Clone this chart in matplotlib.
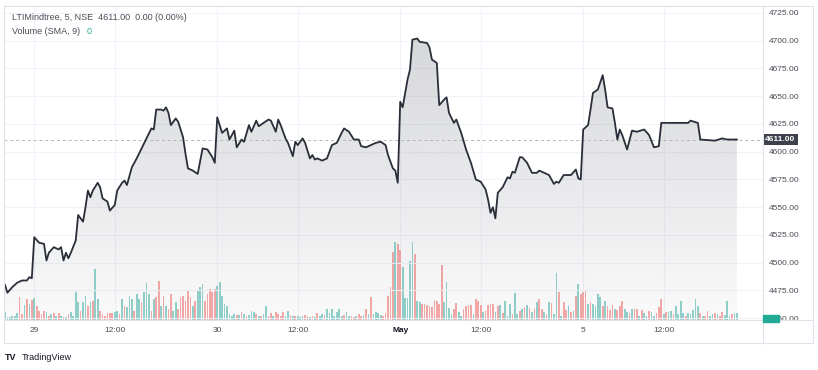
import numpy as np
import matplotlib.pyplot as plt
from matplotlib.patches import Rectangle
from matplotlib.lines import Line2D
from matplotlib.transforms import blended_transform_factory

plt.rcParams['font.family'] = ['Liberation Sans', 'DejaVu Sans']

W, H = 818, 370

# 5-min bars: bar index -> close
bar_idx = [0, 1, 3, 5, 7, 9, 10, 11, 12, 14, 16, 17, 18, 20, 22, 23, 24, 25, 26, 27,
           29, 30, 32, 33, 34, 35, 36, 38, 39, 40, 42, 43, 45, 46, 48, 49, 50, 51, 52, 54,
           56, 58, 60, 61, 62, 64, 65, 66, 67, 68, 70, 71, 73, 74, 75, 77, 79, 81, 83, 85,
           86, 87, 89, 91, 92, 94, 95, 97, 98, 100, 101, 103, 104, 106, 108, 109, 111, 112, 113, 115,
           116, 118, 119, 120, 122, 123, 125, 126, 127, 128, 130, 132, 134, 136, 138, 139, 141, 143, 145, 146,
           148, 150, 152, 154, 156, 157, 159, 160, 161, 162, 163, 165, 166, 167, 169, 170, 173, 174, 175, 177,
           178, 180, 181, 182, 184, 185, 187, 189, 191, 193, 195, 197, 198, 199, 200, 201, 202, 204, 206, 207,
           208, 209, 211, 212, 214, 216, 218, 219, 221, 223, 225, 226, 227, 229, 232, 234, 235, 236, 237, 239,
           240, 241, 243, 245, 246, 247, 249, 250, 251, 252, 253, 255, 257, 259, 262, 264, 266, 268, 269, 271,
           276, 280, 281, 284, 285, 291, 294, 296, 300]
close = [4480, 4473, 4478, 4482, 4484, 4484, 4487, 4486, 4523, 4518, 4517, 4502, 4509, 4514, 4512, 4514, 4502, 4509, 4504, 4509,
         4520, 4543, 4537, 4550, 4565, 4559, 4565, 4572, 4568, 4558, 4555, 4547, 4552, 4565, 4572, 4574, 4570, 4578, 4586, 4594,
         4603, 4612, 4621, 4620, 4638, 4638, 4637, 4640, 4635, 4624, 4630, 4627, 4613, 4598, 4585, 4583, 4580, 4603, 4602, 4595,
         4590, 4631, 4617, 4621, 4611, 4619, 4604, 4611, 4609, 4624, 4618, 4628, 4623, 4626, 4629, 4628, 4618, 4629, 4624, 4612,
         4608, 4596, 4609, 4606, 4612, 4608, 4594, 4597, 4593, 4594, 4592, 4594, 4606, 4608, 4617, 4621, 4618, 4611, 4611, 4605,
         4604, 4606, 4608, 4609, 4606, 4597, 4585, 4583, 4572, 4645, 4640, 4665, 4674, 4701, 4702, 4699, 4698, 4694, 4683, 4680,
         4642, 4647, 4649, 4635, 4626, 4629, 4617, 4602, 4590, 4575, 4573, 4566, 4557, 4545, 4550, 4540, 4563, 4568, 4577, 4576,
         4582, 4581, 4595, 4595, 4590, 4581, 4581, 4583, 4581, 4579, 4571, 4573, 4572, 4579, 4579, 4584, 4576, 4575, 4620, 4624,
         4638, 4653, 4656, 4669, 4656, 4640, 4639, 4626, 4611, 4620, 4615, 4602, 4619, 4618, 4620, 4615, 4604, 4605, 4626, 4626,
         4626, 4626, 4628, 4626, 4611, 4610, 4612, 4611, 4611]
last_price = 4611.00

# volume per bar (arbitrary units)
volume = [8, 3, 3, 4, 4, 7, 23, 6, 15, 21,
          16, 20, 22, 14, 9, 6, 9, 8, 4, 6,
          7, 4, 7, 4, 3, 3, 6, 8, 4, 28,
          18, 9, 18, 24, 14, 18, 19, 51, 21, 9,
          6, 4, 7, 7, 7, 8, 9, 6, 21, 14,
          13, 24, 21, 9, 26, 21, 18, 28, 37, 26,
          9, 21, 23, 39, 14, 24, 14, 11, 26, 9,
          18, 11, 23, 24, 19, 29, 23, 14, 19, 29,
          33, 36, 19, 26, 31, 28, 31, 34, 38, 24,
          16, 14, 6, 4, 6, 5, 5, 8, 6, 4,
          5, 9, 8, 6, 4, 4, 6, 14, 4, 7,
          4, 8, 6, 4, 8, 4, 9, 5, 4, 4, 4,
          3, 4, 5, 4, 3, 4, 3, 7, 4, 6,
          5, 11, 7, 11, 4, 8, 11, 4, 5, 8,
          4, 4, 3, 4, 6, 4, 5, 11, 6, 23,
          6, 8, 7, 5, 4, 7, 24, 33, 68, 78,
          76, 70, 53, 22, 22, 59, 78, 66, 19, 18,
          16, 16, 15, 14, 13, 20, 19, 16, 55, 18,
          38, 12, 6, 11, 17, 8, 4, 11, 14, 15,
          15, 6, 21, 19, 15, 8, 9, 15, 16, 16,
          8, 14, 15, 7, 19, 4, 16, 6, 27, 6,
          9, 11, 13, 15, 12, 8, 11, 18, 21, 11,
          8, 6, 18, 17, 6, 47, 28, 4, 18, 10,
          14, 8, 9, 24, 36, 26, 28, 29, 16, 18,
          16, 14, 26, 23, 14, 19, 14, 10, 15, 11,
          10, 14, 19, 11, 8, 7, 11, 11, 11, 4,
          10, 7, 4, 9, 8, 4, 7, 13, 21, 6,
          8, 8, 9, 6, 14, 6, 19, 7, 4, 7,
          6, 10, 21, 14, 7, 4, 4, 9, 4, 6,
          7, 6, 4, 8, 5, 19, 4, 6, 7, 7]
# bar direction, u = up, d = down (same grouping as volume)
vol_dir = ("uuuuuuddud" "ududdddudu" "dudududuuu" "uduududuud"
           "ddddduudud" "uuuduuduuu" "duddududdu" "uddddddudu"
           "uuddddduuu" "uuuuududud" "uuududuudd" "udddduududu"
           "uuddududuu" "duuuuuuudu" "udduddudud"
           "uuuudddddu" "dduuuuuduu" "dddddddddu" "uuudduuddd"
           "dudddudddd" "ududuuuduu" "dududududd" "ududuududd"
           "udududddud" "uuuududddu" "ddduududdu" "duuduudddu"
           "duuduuuudu" "uuuududduu" "dudduuuduu")

price_ticks = [4450, 4475, 4500, 4525, 4550, 4575, 4600, 4625, 4650, 4675, 4700, 4725]
time_ticks = [12, 45, 87, 120, 162, 195, 237, 270]
time_labels = ["29", "12:00", "30", "12:00", "May", "12:00", "5", "12:00"]

UP_COL = '#92d2cc'
DOWN_COL = '#f7a9a7'
GRID = '#f0f3fa'
TXT = '#4a4d57'

def fx(px):
    return px / W

def fy(py):
    return 1 - py / H

fig = plt.figure(figsize=(W / 100, H / 100), dpi=100)
rect = [fx(4), fy(320), fx(763) - fx(4), fy(6) - fy(320)]

# volume pane (below), price pane on top
axv = fig.add_axes(rect)
ax = axv.twinx()
axv.set_zorder(0)
ax.set_zorder(1)
ax.patch.set_visible(False)

xlo, xhi = -0.4, 310.7
ylo, yhi = 4448.4, 4731.3

x = np.arange(len(volume))
colors = [UP_COL if d == 'u' else DOWN_COL for d in vol_dir]
for t in time_ticks:
    axv.axvline(t, color=GRID, lw=0.8, zorder=0)
axv.bar(x, volume, width=0.7, color=colors, linewidth=0, zorder=2)
axv.set_ylim(0, 314)
axv.set_xlim(xlo, xhi)
axv.set_yticks([])
for s in axv.spines.values():
    s.set_visible(False)

for p in price_ticks:
    ax.axhline(p, color=GRID, lw=0.8, zorder=0)

# gradient area fill under the line
poly = ax.fill_between(bar_idx, close, ylo, facecolor='none', edgecolor='none')
grad = np.zeros((256, 1, 4))
grad[:, 0, 0] = 120 / 255
grad[:, 0, 1] = 123 / 255
grad[:, 0, 2] = 134 / 255
grad[:, 0, 3] = np.linspace(0.30, 0.04, 256)
im = ax.imshow(grad, extent=[bar_idx[0], bar_idx[-1], ylo, max(close)],
               aspect='auto', origin='upper', zorder=1, interpolation='bilinear')
im.set_clip_path(poly.get_paths()[0], transform=ax.transData)

ax.plot(bar_idx, close, color='#2a2e39', lw=1.3, zorder=3, solid_joinstyle='round')
ax.axhline(last_price, color='#b2b5be', lw=0.7, ls=(0, (3, 3)), zorder=2)

ax.set_xlim(xlo, xhi)
ax.set_ylim(ylo, yhi)
ax.set_yticks(price_ticks)
ax.set_yticklabels([f"{p:.2f}" for p in price_ticks])
ax.yaxis.tick_right()
ax.tick_params(axis='y', length=0, pad=4.5, labelsize=6, labelcolor=TXT)
axv.set_xticks(time_ticks)
axv.set_xticklabels(time_labels)
axv.tick_params(axis='x', length=0, pad=5, labelsize=6, labelcolor=TXT)
axv.get_xticklabels()[4].set_fontweight('bold')
axv.get_xticklabels()[4].set_color('#131722')
ax.tick_params(axis='x', length=0, labelbottom=False)
for s in ax.spines.values():
    s.set_visible(False)

# last price label on the scale
tr = blended_transform_factory(ax.transAxes, ax.transData)
ax.text(1.003, last_price, f"{last_price:.2f}", transform=tr, ha='left', va='center',
        fontsize=6, color='white', fontweight='bold', clip_on=False, zorder=10,
        bbox=dict(boxstyle='square,pad=0.25', fc='#3d414c', ec='none'))

# frame / separators
line_col = '#e0e3eb'
fig.add_artist(Line2D([fx(4), fx(813)], [fy(6), fy(6)], color=line_col, lw=0.8))
fig.add_artist(Line2D([fx(4), fx(813)], [fy(343), fy(343)], color=line_col, lw=0.8))
fig.add_artist(Line2D([fx(4), fx(4)], [fy(6), fy(343)], color=line_col, lw=0.8))
fig.add_artist(Line2D([fx(813), fx(813)], [fy(6), fy(343)], color=line_col, lw=0.8))
fig.add_artist(Line2D([fx(763), fx(763)], [fy(6), fy(343)], color=line_col, lw=0.8))
fig.add_artist(Line2D([fx(4), fx(813)], [fy(320), fy(320)], color=line_col, lw=0.8))

# volume value badge on the scale
fig.add_artist(Rectangle((fx(763), fy(322)), fx(779) - fx(763), fy(315) - fy(322),
                         color='#22ab94', zorder=20))

# legend texts
fig.text(fx(12), fy(17), "LTIMindtree, 5, NSE  4611.00  0.00 (0.00%)", fontsize=6.5,
         color=TXT, va='center')
fig.text(fx(12), fy(32), "Volume (SMA, 9)", fontsize=6.5, color=TXT, va='center')
fig.text(fx(87), fy(32), "0", fontsize=6.5, color='#22ab94', va='center')

# watermark
fig.text(fx(5), fy(357), "TV", fontsize=6.5, fontweight='heavy', color='#131722', va='center')
fig.text(fx(22), fy(357), "TradingView", fontsize=6.5, color='#131722', va='center')

fig.savefig("out.png", dpi=100, facecolor='white')
